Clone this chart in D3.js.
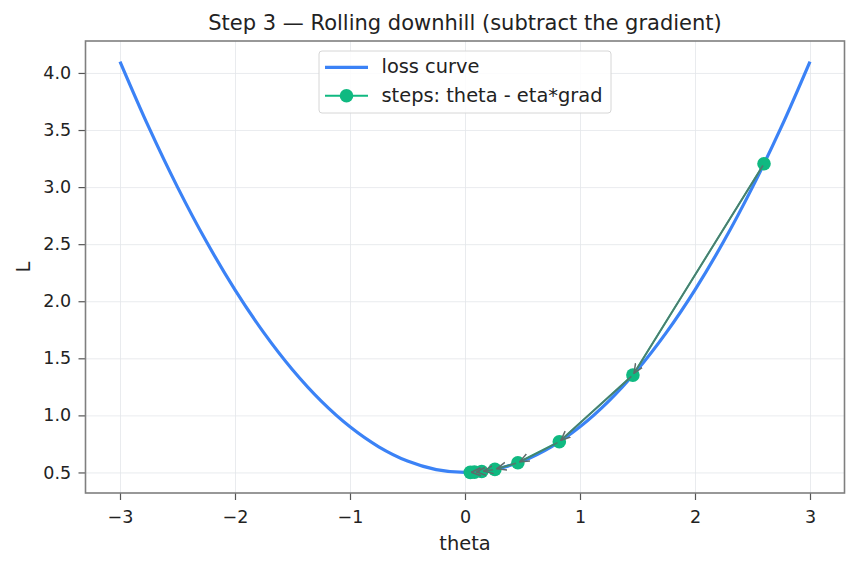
<!DOCTYPE html>
<html>
<head>
<meta charset="utf-8">
<script src="https://cdn.jsdelivr.net/npm/d3@7"></script>
<style>
  body { margin: 0; background: #fff; }
  svg { font-family: "DejaVu Sans", sans-serif; }
  .grid line { stroke: #e3e6ea; stroke-width: 0.8; }
  .grid .domain { display: none; }
</style>
</head>
<body>
<div id="chart"></div>
<script>
// loss curve
const curveTheta = [-3, -2.75, -2.5, -2.25, -2, -1.75, -1.5, -1.25, -1, -0.75, -0.5, -0.25, 0,
                    0.25, 0.5, 0.75, 1, 1.25, 1.5, 1.75, 2, 2.25, 2.5, 2.75, 3];
const curveLoss = [4.1, 3.525, 3.0, 2.525, 2.1, 1.725, 1.4, 1.125, 0.9, 0.725, 0.6, 0.525, 0.5,
                   0.525, 0.6, 0.725, 0.9, 1.125, 1.4, 1.725, 2.1, 2.525, 3.0, 3.525, 4.1];

// gradient steps
const stepTheta = [2.6, 1.46, 0.82, 0.46, 0.26, 0.145, 0.082, 0.046];
const stepLoss = [3.204, 1.353, 0.769, 0.585, 0.527, 0.508, 0.503, 0.501];

const xTicks = [-3, -2, -1, 0, 1, 2, 3];
const yTicks = [0.5, 1.0, 1.5, 2.0, 2.5, 3.0, 3.5, 4.0];

const blue = "#3b82f6";
const green = "#10b981";

const width = 859, height = 567;
const margin = { top: 41, right: 14.5, bottom: 74, left: 85.5 };
const innerWidth = width - margin.left - margin.right;
const innerHeight = height - margin.top - margin.bottom;

const svg = d3.select("#chart").append("svg")
    .attr("width", width)
    .attr("height", height);

const defs = svg.append("defs");
defs.append("marker")
    .attr("id", "arrow")
    .attr("viewBox", "0 0 10 10")
    .attr("refX", 9.5).attr("refY", 5)
    .attr("markerWidth", 10).attr("markerHeight", 10)
    .attr("markerUnits", "userSpaceOnUse")
    .attr("orient", "auto")
    .append("path")
    .attr("d", "M0,1 L9.5,5 L0,9")
    .attr("fill", "none")
    .attr("stroke", "#5f6b6b")
    .attr("stroke-width", 1.5);

const chart = svg.append("g")
    .attr("transform", `translate(${margin.left}, ${margin.top})`);

const xScale = d3.scaleLinear().domain([-3.3, 3.3]).range([0, innerWidth]);
const yScale = d3.scaleLinear().domain([0.32, 4.28]).range([innerHeight, 0]);

// grid (no labels)
chart.append("g").attr("class", "grid")
    .attr("transform", `translate(0, ${innerHeight})`)
    .call(d3.axisBottom(xScale).tickValues(xTicks).tickSize(-innerHeight).tickFormat(""))
    .call(g => g.selectAll("text").remove());
chart.append("g").attr("class", "grid")
    .call(d3.axisLeft(yScale).tickValues(yTicks).tickSize(-innerWidth).tickFormat(""))
    .call(g => g.selectAll("text").remove());

// loss curve
const line = d3.line()
    .x((d, i) => xScale(curveTheta[i]))
    .y(d => yScale(d))
    .curve(d3.curveCatmullRom);

chart.append("path")
    .attr("d", line(curveLoss))
    .attr("fill", "none")
    .attr("stroke", blue)
    .attr("stroke-width", 3.2);

// steps line + markers
const stepLine = d3.line()
    .x((d, i) => xScale(stepTheta[i]))
    .y(d => yScale(d));

chart.append("path")
    .attr("d", stepLine(stepLoss))
    .attr("fill", "none")
    .attr("stroke", green)
    .attr("stroke-width", 2);

chart.selectAll(".step")
    .data(stepLoss)
    .join("circle")
    .attr("class", "step")
    .attr("cx", (d, i) => xScale(stepTheta[i]))
    .attr("cy", d => yScale(d))
    .attr("r", 6.8)
    .attr("fill", green);

// arrows between steps
const arrows = d3.range(stepTheta.length - 1).map(i => {
    const x1 = xScale(stepTheta[i]), y1 = yScale(stepLoss[i]);
    const x2 = xScale(stepTheta[i + 1]), y2 = yScale(stepLoss[i + 1]);
    const dx = x2 - x1, dy = y2 - y1;
    const len = Math.hypot(dx, dy);
    const s = Math.min(2, len / 4);
    return { x1: x1 + dx / len * s, y1: y1 + dy / len * s, x2: x2 - dx / len * s, y2: y2 - dy / len * s };
});

chart.selectAll(".arrow")
    .data(arrows)
    .join("line")
    .attr("class", "arrow")
    .attr("x1", d => d.x1).attr("y1", d => d.y1)
    .attr("x2", d => d.x2).attr("y2", d => d.y2)
    .attr("stroke", "#5f6b6b")
    .attr("stroke-opacity", 0.85)
    .attr("stroke-width", 1.6)
    .attr("marker-end", "url(#arrow)");

// axes
const styleAxis = g => {
    g.attr("font-size", 17.5).attr("font-family", "DejaVu Sans, sans-serif");
    g.select(".domain").remove();
    g.selectAll(".tick line").attr("stroke", "#555").attr("stroke-width", 1.2);
    g.selectAll(".tick text").attr("fill", "#222");
};

chart.append("g")
    .attr("transform", `translate(0, ${innerHeight})`)
    .call(d3.axisBottom(xScale).tickValues(xTicks).tickSize(7).tickPadding(10.5)
        .tickFormat(d => d < 0 ? "\u2212" + Math.abs(d) : d))
    .call(styleAxis);

chart.append("g")
    .call(d3.axisLeft(yScale).tickValues(yTicks).tickSize(7).tickPadding(7.3)
        .tickFormat(d3.format(".1f")))
    .call(styleAxis);

// frame
chart.append("rect")
    .attr("width", innerWidth)
    .attr("height", innerHeight)
    .attr("fill", "none")
    .attr("stroke", "#7f7f7f")
    .attr("stroke-width", 1.6);

// labels
svg.append("text")
    .attr("x", margin.left + innerWidth / 2)
    .attr("y", 30)
    .attr("text-anchor", "middle")
    .attr("font-size", 21)
    .attr("fill", "#222")
    .text("Step 3 \u2014 Rolling downhill (subtract the gradient)");

svg.append("text")
    .attr("x", margin.left + innerWidth / 2)
    .attr("y", 550)
    .attr("text-anchor", "middle")
    .attr("font-size", 19.4)
    .attr("fill", "#222")
    .text("theta");

svg.append("text")
    .attr("transform", `translate(30, ${margin.top + innerHeight / 2}) rotate(-90)`)
    .attr("text-anchor", "middle")
    .attr("font-size", 19.4)
    .attr("fill", "#222")
    .text("L");

// legend
const legend = svg.append("g").attr("transform", "translate(319, 51)");
legend.append("rect")
    .attr("width", 292).attr("height", 62)
    .attr("rx", 3)
    .attr("fill", "#fff").attr("fill-opacity", 0.85)
    .attr("stroke", "#d6d6d6");

legend.append("line")
    .attr("x1", 6).attr("x2", 49).attr("y1", 16.3).attr("y2", 16.3)
    .attr("stroke", blue).attr("stroke-width", 3.2);
legend.append("text")
    .attr("x", 62.5).attr("y", 22.3)
    .attr("font-size", 19.4).attr("fill", "#222")
    .text("loss curve");

legend.append("line")
    .attr("x1", 6).attr("x2", 49).attr("y1", 44.7).attr("y2", 44.7)
    .attr("stroke", green).attr("stroke-width", 2);
legend.append("circle")
    .attr("cx", 27.5).attr("cy", 44.7).attr("r", 6.8)
    .attr("fill", green);
legend.append("text")
    .attr("x", 62.5).attr("y", 50.7)
    .attr("font-size", 19.4).attr("fill", "#222")
    .text("steps: theta - eta*grad");
</script>
</body>
</html>
